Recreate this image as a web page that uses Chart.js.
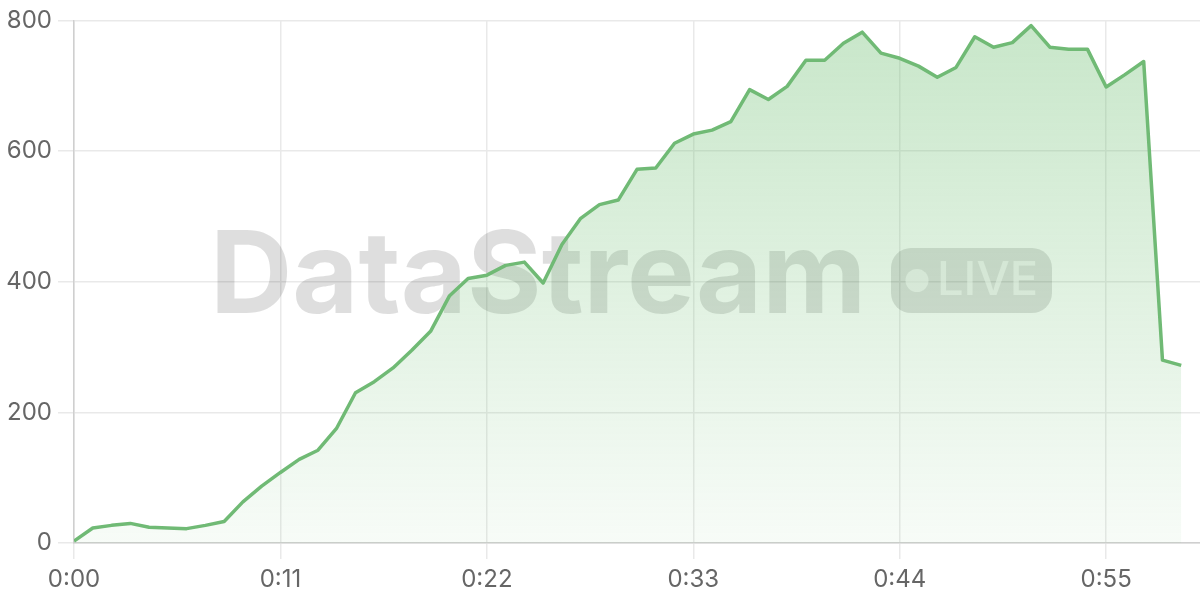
<!DOCTYPE html>
<html>
<head>
<meta charset="utf-8">
<script src="https://cdn.jsdelivr.net/npm/chart.js@4.4.1/dist/chart.umd.min.js"></script>
<style>
  html, body { margin: 0; padding: 0; background: #ffffff; }
  #wrap { width: 1200px; height: 600px; }
</style>
</head>
<body>
<div id="wrap"><canvas id="c" width="1200" height="600"></canvas></div>
<script>
// ---- data ----
const seconds = [0,1,2,3,4,5,6,7,8,9,10,11,12,13,14,15,16,17,18,19,20,21,22,23,24,25,26,27,28,29,30,31,32,33,34,35,36,37,38,39,40,41,42,43,44,45,46,47,48,49,50,51,52,53,54,55,56,57,58,59];
const values = [3,23,27,30,24,23,22,27,33,63,87,108,128,142,176,230,247,268,295,324,378,405,410,425,430,398,457,497,518,525,572,574,612,626,632,645,694,679,699,739,739,765,782,750,742,730,713,728,775,759,766,792,759,756,756,698,717,737,280,272];
const xTickValues = [0,11,22,33,44,55];
const xTickLabels = ['0:00','0:11','0:22','0:33','0:44','0:55'];
const yTickValues = [0,200,400,600,800];
const watermarkText = 'DataStream';
const badgeText = 'LIVE';

const points = seconds.map((s, i) => ({ x: s, y: values[i] }));

const watermark = {
  id: 'watermark',
  beforeDatasetsDraw(chart) {
    const ctx = chart.ctx;
    ctx.save();
    ctx.fillStyle = 'rgba(0,0,0,0.13)';
    ctx.font = '700 114px Inter, "Liberation Sans", sans-serif';
    ctx.textBaseline = 'alphabetic';
    ctx.textAlign = 'left';
    ctx.fillText(watermarkText, 210, 313);
    // badge
    const bx = 891, by = 248, bw = 161, bh = 65, r = 20;
    ctx.beginPath();
    ctx.moveTo(bx + r, by);
    ctx.arcTo(bx + bw, by, bx + bw, by + bh, r);
    ctx.arcTo(bx + bw, by + bh, bx, by + bh, r);
    ctx.arcTo(bx, by + bh, bx, by, r);
    ctx.arcTo(bx, by, bx + bw, by, r);
    ctx.closePath();
    ctx.fill();
    ctx.fillStyle = 'rgba(255,255,255,0.62)';
    ctx.beginPath();
    ctx.arc(917, 280.5, 11.5, 0, Math.PI * 2);
    ctx.fill();
    ctx.font = '500 47px Inter, "Liberation Sans", sans-serif';
    ctx.textBaseline = 'middle';
    ctx.fillText(badgeText, 937, 281);
    ctx.restore();
  }
};

const tickFont = { family: 'Inter, "Liberation Sans", sans-serif', size: 24 };

new Chart(document.getElementById('c'), {
  type: 'line',
  data: {
    datasets: [{
      data: points,
      borderColor: 'rgb(112,186,117)',
      borderWidth: 3.5,
      tension: 0,
      pointRadius: 0,
      borderJoinStyle: 'round',
      fill: 'origin',
      backgroundColor(context) {
        const area = context.chart.chartArea;
        if (!area) return 'rgba(102,187,106,0.2)';
        const g = context.chart.ctx.createLinearGradient(0, area.top, 0, area.bottom);
        g.addColorStop(0, 'rgba(102,187,106,0.36)');
        g.addColorStop(1, 'rgba(102,187,106,0.05)');
        return g;
      }
    }]
  },
  options: {
    responsive: false,
    animation: false,
    devicePixelRatio: 1,
    layout: { padding: { top: 20, right: 0, bottom: 0, left: 0 } },
    plugins: { legend: { display: false }, tooltip: { enabled: false } },
    scales: {
      x: {
        type: 'linear',
        min: 0,
        max: 60,
        afterBuildTicks(scale) { scale.ticks = xTickValues.map(v => ({ value: v })); },
        afterFit(scale) { scale.height = 57; },
        ticks: {
          callback(v) { const i = xTickValues.indexOf(v); return i >= 0 ? xTickLabels[i] : ''; },
          color: '#666666',
          font: tickFont,
          padding: 6,
          maxRotation: 0,
          autoSkip: false
        },
        grid: { color: '#e9e9e9', lineWidth: 1.5, tickLength: 16 },
        border: { color: '#cfcfcf', width: 1.5 }
      },
      y: {
        min: 0,
        max: 800,
        afterBuildTicks(scale) { scale.ticks = yTickValues.map(v => ({ value: v })); },
        afterFit(scale) { scale.width = 74; },
        ticks: {
          color: '#666666',
          font: tickFont,
          padding: 6
        },
        grid: { color: '#e9e9e9', lineWidth: 1.5, tickLength: 16 },
        border: { color: '#cfcfcf', width: 1.5 }
      }
    }
  },
  plugins: [watermark]
});
</script>
</body>
</html>
